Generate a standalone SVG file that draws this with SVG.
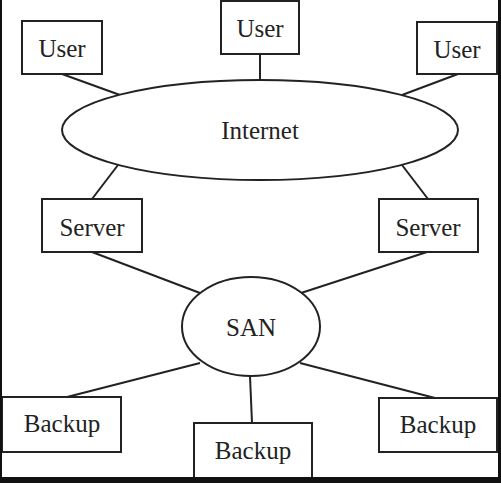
<svg xmlns="http://www.w3.org/2000/svg" width="501" height="483" viewBox="0 0 501 483">
<style>
.n{fill:#fff;stroke:#222;stroke-width:2}
.t{font-family:"Liberation Serif","Times New Roman",serif;font-size:25px;fill:#222;text-anchor:middle}
.c line{stroke:#222;stroke-width:2}
</style>
<rect x="0" y="0" width="501" height="483" fill="#fff"/>
<g class="c" id="connectors">
<line x1="62" y1="74" x2="120" y2="95"/>
<line x1="260" y1="54" x2="260" y2="80"/>
<line x1="458" y1="74" x2="402" y2="95"/>
<line x1="118" y1="165" x2="92" y2="199"/>
<line x1="402" y1="165" x2="428" y2="199"/>
<line x1="92" y1="252" x2="200" y2="293"/>
<line x1="427" y1="252" x2="301" y2="293"/>
<line x1="200" y1="363" x2="67" y2="397"/>
<line x1="250" y1="376" x2="252" y2="423"/>
<line x1="300" y1="363" x2="435" y2="398"/>
</g>
<g id="user1"><rect class="n" x="22" y="21" width="80" height="53"/><text class="t" x="62" y="57">User</text></g>
<g id="user2"><rect class="n" x="221" y="1" width="78" height="53"/><text class="t" x="260" y="37">User</text></g>
<g id="user3"><rect class="n" x="417" y="22" width="80" height="52"/><text class="t" x="457" y="58">User</text></g>
<g id="internet"><ellipse class="n" cx="260" cy="130" rx="198" ry="50"/><text class="t" x="260" y="139">Internet</text></g>
<g id="server1"><rect class="n" x="42" y="199" width="100" height="53"/><text class="t" x="92" y="236">Server</text></g>
<g id="server2"><rect class="n" x="379" y="199" width="99" height="53"/><text class="t" x="428" y="236">Server</text></g>
<g id="san"><ellipse class="n" cx="251" cy="326.5" rx="69" ry="49.5"/><text class="t" x="251" y="336">SAN</text></g>
<g id="backup1"><rect class="n" x="2" y="397" width="119" height="55"/><text class="t" x="62" y="432">Backup</text></g>
<g id="backup2"><rect class="n" x="194" y="423" width="118" height="56"/><text class="t" x="253" y="459">Backup</text></g>
<g id="backup3"><rect class="n" x="379" y="398" width="118" height="54"/><text class="t" x="438" y="433">Backup</text></g>
<rect x="0" y="0" width="2" height="483" fill="#111"/>
<rect x="498" y="0" width="3" height="483" fill="#111"/>
<rect x="0" y="477" width="501" height="6" fill="#111"/>
</svg>
